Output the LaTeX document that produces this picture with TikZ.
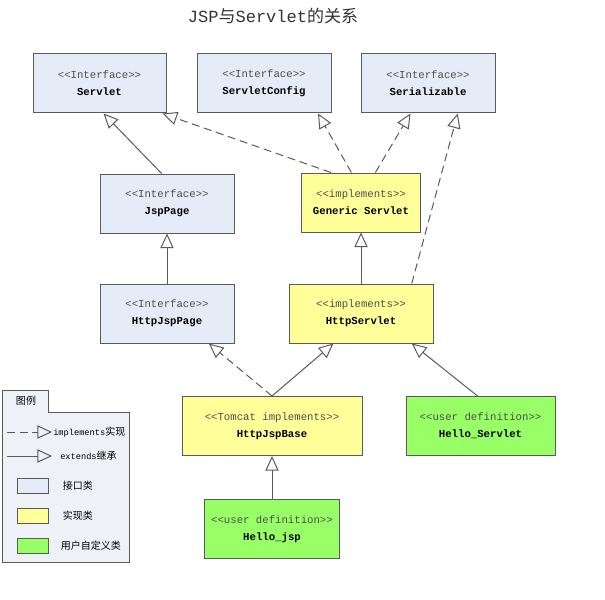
\documentclass[tikz,border=0pt]{standalone}
\usepackage{fontspec}
\setmainfont{Liberation Mono}
\newfontfamily\cjk{Noto Sans CJK SC}
\usetikzlibrary{positioning}
\usetikzlibrary{arrows.meta,calc}
\definecolor{ifcblue}{HTML}{E6ECF7}
\definecolor{implyellow}{HTML}{FFFF99}
\definecolor{usergreen}{HTML}{99FF66}
\definecolor{legendbg}{HTML}{EEF1F6}
\definecolor{linegray}{HTML}{5A5A5A}

\tikzset{
 box/.style={draw=linegray, line width=0.75pt, minimum height=44.25pt, inner sep=0pt,
  align=center, font=\fontsize{8}{12.5}\selectfont},
 ifc/.style={box, fill=ifcblue},
 impl/.style={box, fill=implyellow},
 user/.style={box, fill=usergreen},
 ext/.style={draw=linegray, line width=0.75pt, -{Triangle[open, length=11pt, width=10pt]}},
 realize/.style={ext, dash pattern=on 6pt off 3.5pt},
 swatch/.style={draw=linegray, line width=0.75pt, minimum width=23.25pt, minimum height=11.25pt, inner sep=0pt},
 lgtext/.style={inner sep=0pt, anchor=west, font=\fontsize{6.5}{8}\selectfont}
}
\newcommand{\stereo}[1]{{\color{black!70}<{}<#1>{}>}}

\begin{document}
\begin{tikzpicture}[x=0.75pt, y=-0.75pt]
 \useasboundingbox (0,0) rectangle (605,599);

 % title
 \node[text=black!80, font=\fontsize{12.75}{14}\selectfont] (title) at (273,16)
  {JSP{\cjk 与}Servlet{\cjk 的关系}};

 % interfaces
 \node[ifc, minimum width=99.75pt] (servlet) at (99.5,83.5) {\stereo{Interface}\\\textbf{Servlet}};
 \node[ifc, minimum width=100.5pt] (config) at (264,83.5) {\stereo{Interface}\\\textbf{ServletConfig}};
 \node[ifc, minimum width=100.5pt] (serial) at (428,83.5) {\stereo{Interface}\\\textbf{Serializable}};
 \node[ifc, minimum width=100.5pt] (jsppage) at (167,203.5) {\stereo{Interface}\\\textbf{JspPage}};
 \node[ifc, minimum width=100.5pt] (httpjsppage) at (167,313.5) {\stereo{Interface}\\\textbf{HttpJspPage}};

 % implementations
 \node[impl, minimum width=89.25pt] (generic) at (361,202.5) {\stereo{implements}\\\textbf{Generic Servlet}};
 \node[impl, minimum width=108pt] (httpservlet) at (361,313.5) {\stereo{implements}\\\textbf{HttpServlet}};
 \node[impl, minimum width=135pt] (jspbase) at (272,426) {\stereo{Tomcat implements}\\\textbf{HttpJspBase}};

 % user classes
 \node[user, minimum width=111.75pt] (helloservlet) at (480.5,426) {\stereo{user definition}\\\textbf{Hello\_Servlet}};
 \node[user, minimum width=101.25pt] (hellojsp) at (272,529) {\stereo{user definition}\\\textbf{Hello\_jsp}};

 % extends
 \draw[ext] ($(jsppage.north west)!.46!(jsppage.north east)$) -- ($(servlet.south west)!.53!(servlet.south east)$);
 \draw[ext] (httpjsppage) -- (jsppage);
 \draw[ext] (httpservlet) -- (generic);
 \draw[ext] (jspbase.north) -- ($(httpservlet.south west)!.31!(httpservlet.south east)$);
 \draw[ext] ($(helloservlet.north west)!.48!(helloservlet.north east)$) -- ($(httpservlet.south west)!.85!(httpservlet.south east)$);
 \draw[ext] (hellojsp) -- (jspbase);

 % implements
 \draw[realize] ($(generic.north west)!.25!(generic.north east)$) -- ($(servlet.south west)!.97!(servlet.south east)$);
 \draw[realize] ($(generic.north west)!.42!(generic.north east)$) -- ($(config.south west)!.9!(config.south east)$);
 \draw[realize] ($(generic.north west)!.62!(generic.north east)$) -- ($(serial.south west)!.37!(serial.south east)$);
 \draw[realize] ($(httpservlet.north west)!.85!(httpservlet.north east)$) -- ($(serial.south west)!.72!(serial.south east)$);
 \draw[realize] (jspbase.north) -- ($(httpjsppage.south west)!.81!(httpjsppage.south east)$);

 % legend
 \draw[draw=linegray, line width=0.75pt, fill=legendbg]
  (2,390) -- (48,390) -- (48,412) -- (129,412) -- (129,562) -- (2,562) -- cycle;
 \node[inner sep=0pt, font=\cjk\fontsize{7.5}{8}\selectfont] (lgtitle) at (26,401) {图例};
 \coordinate (lgimplA) at (7,432);
 \coordinate (lgimplB) at (52,432);
 \coordinate (lgextA) at (7,456);
 \coordinate (lgextB) at (52,456);
 \draw[realize] (lgimplA) -- (lgimplB);
 \draw[ext] (lgextA) -- (lgextB);
 \node[lgtext] (lgimpl) at (53,432) {implements{\cjk\fontsize{7.5}{8}\selectfont 实现}};
 \node[lgtext] (lgext) at (60,456) {extends{\cjk\fontsize{7.5}{8}\selectfont 继承}};
 \node[swatch, fill=ifcblue] (swifc) at (32.5,485.5) {};
 \node[swatch, fill=implyellow] (swimpl) at (32.5,515.5) {};
 \node[swatch, fill=usergreen] (swuser) at (32.5,545.5) {};
 \node[lgtext, font=\cjk\fontsize{7.5}{8}\selectfont, right=10.5pt of swifc] (lgifc) {接口类};
 \node[lgtext, font=\cjk\fontsize{7.5}{8}\selectfont, right=10.5pt of swimpl] (lgimplcls) {实现类};
 \node[lgtext, font=\cjk\fontsize{7.5}{8}\selectfont, right=9pt of swuser] (lguser) {用户自定义类};
\end{tikzpicture}
\end{document}
